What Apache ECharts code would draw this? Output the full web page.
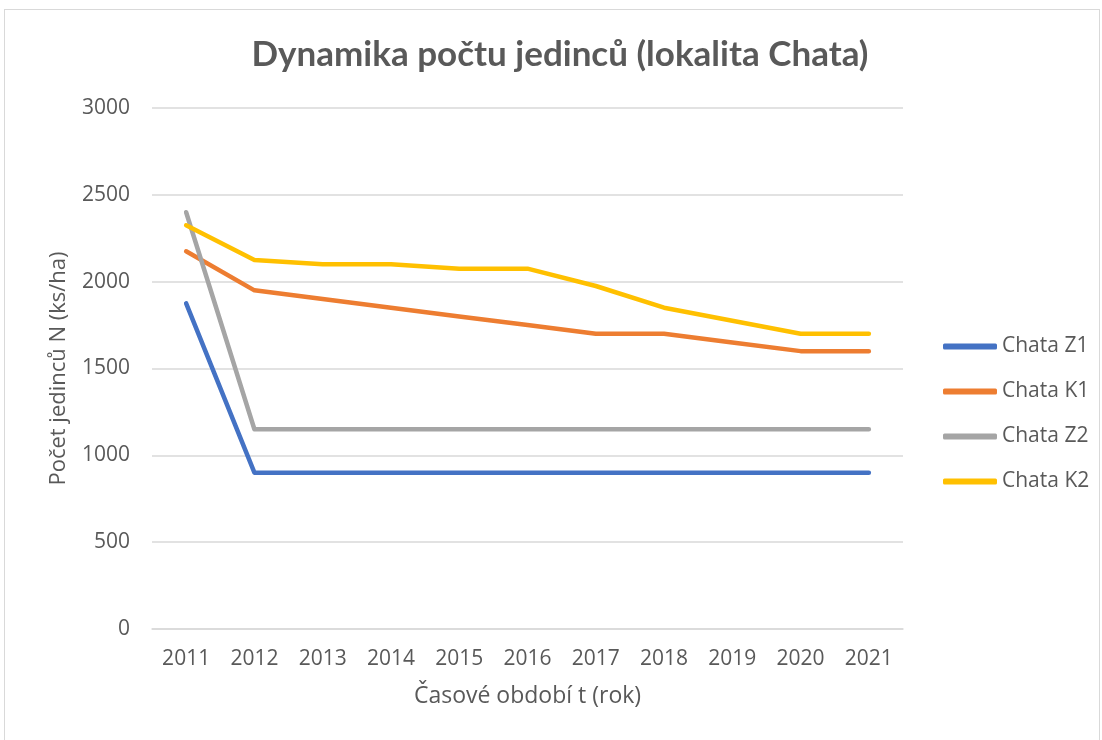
<!DOCTYPE html>
<html>
<head>
<meta charset="utf-8">
<script src="https://cdn.jsdelivr.net/npm/echarts@6/dist/echarts.min.js"></script>
<style>
  html, body { margin: 0; padding: 0; background: #fff; }
  #frame { position: absolute; left: 4px; top: 9px; width: 1096px; height: 740px; border: 1px solid #d9d9d9; box-sizing: border-box; }
  #chart { width: 1102px; height: 740px; }
</style>
</head>
<body>
<div id="frame"></div>
<div id="chart"></div>
<script>
const years = ['2011', '2012', '2013', '2014', '2015', '2016', '2017', '2018', '2019', '2020', '2021'];
const chataZ1 = [1875, 900, 900, 900, 900, 900, 900, 900, 900, 900, 900];
const chataK1 = [2175, 1950, 1900, 1850, 1800, 1750, 1700, 1700, 1650, 1600, 1600];
const chataZ2 = [2400, 1150, 1150, 1150, 1150, 1150, 1150, 1150, 1150, 1150, 1150];
const chataK2 = [2325, 2125, 2100, 2100, 2075, 2075, 1975, 1850, 1775, 1700, 1700];

const font = 'Open Sans, sans-serif';
const titleFont = 'Lato, Open Sans, sans-serif';
const txt = '#595959';

function line(name, data, color) {
  return {
    name: name,
    type: 'line',
    data: data,
    showSymbol: false,
    symbol: 'none',
    lineStyle: { width: 4.5, color: color, cap: 'round', join: 'round' },
    itemStyle: { color: color }
  };
}

const chart = echarts.init(document.getElementById('chart'));
chart.setOption({
  animation: false,
  title: {
    text: 'Dynamika počtu jedinců (lokalita Chata)',
    left: 555,
    top: 32,
    textAlign: 'center',
    textStyle: { fontFamily: titleFont, fontSize: 35, fontWeight: 'bold', color: txt }
  },
  legend: {
    orient: 'vertical',
    left: 943,
    top: 336,
    padding: 0,
    itemWidth: 54,
    itemHeight: 6,
    itemGap: 24,
    icon: 'roundRect',
    textStyle: { fontFamily: font, fontSize: 21, color: txt },
    data: ['Chata Z1', 'Chata K1', 'Chata Z2', 'Chata K2']
  },
  grid: { left: 152, right: 199, top: 108, bottom: 111 },
  xAxis: {
    type: 'category',
    data: years,
    boundaryGap: true,
    name: 'Časové období t (rok)',
    nameLocation: 'middle',
    nameGap: 56,
    nameTextStyle: { fontFamily: font, fontSize: 23, color: txt },
    axisLine: { lineStyle: { color: '#d9d9d9', width: 1.5 } },
    axisTick: { show: false },
    axisLabel: { fontFamily: font, fontSize: 21, color: txt, margin: 20 }
  },
  yAxis: {
    type: 'value',
    min: 0,
    max: 3000,
    interval: 500,
    name: 'Počet jedinců N (ks/ha)',
    nameLocation: 'middle',
    nameGap: 82,
    nameTextStyle: { fontFamily: font, fontSize: 22, color: txt },
    axisLine: { show: false },
    axisTick: { show: false },
    axisLabel: { fontFamily: font, fontSize: 21, color: txt, margin: 22, formatter: v => String(v) },
    splitLine: { lineStyle: { color: '#d9d9d9', width: 1.5 } }
  },
  series: [
    line('Chata Z1', chataZ1, '#4472c4'),
    line('Chata K1', chataK1, '#ed7d31'),
    line('Chata Z2', chataZ2, '#a5a5a5'),
    line('Chata K2', chataK2, '#ffc000')
  ]
});
</script>
</body>
</html>
